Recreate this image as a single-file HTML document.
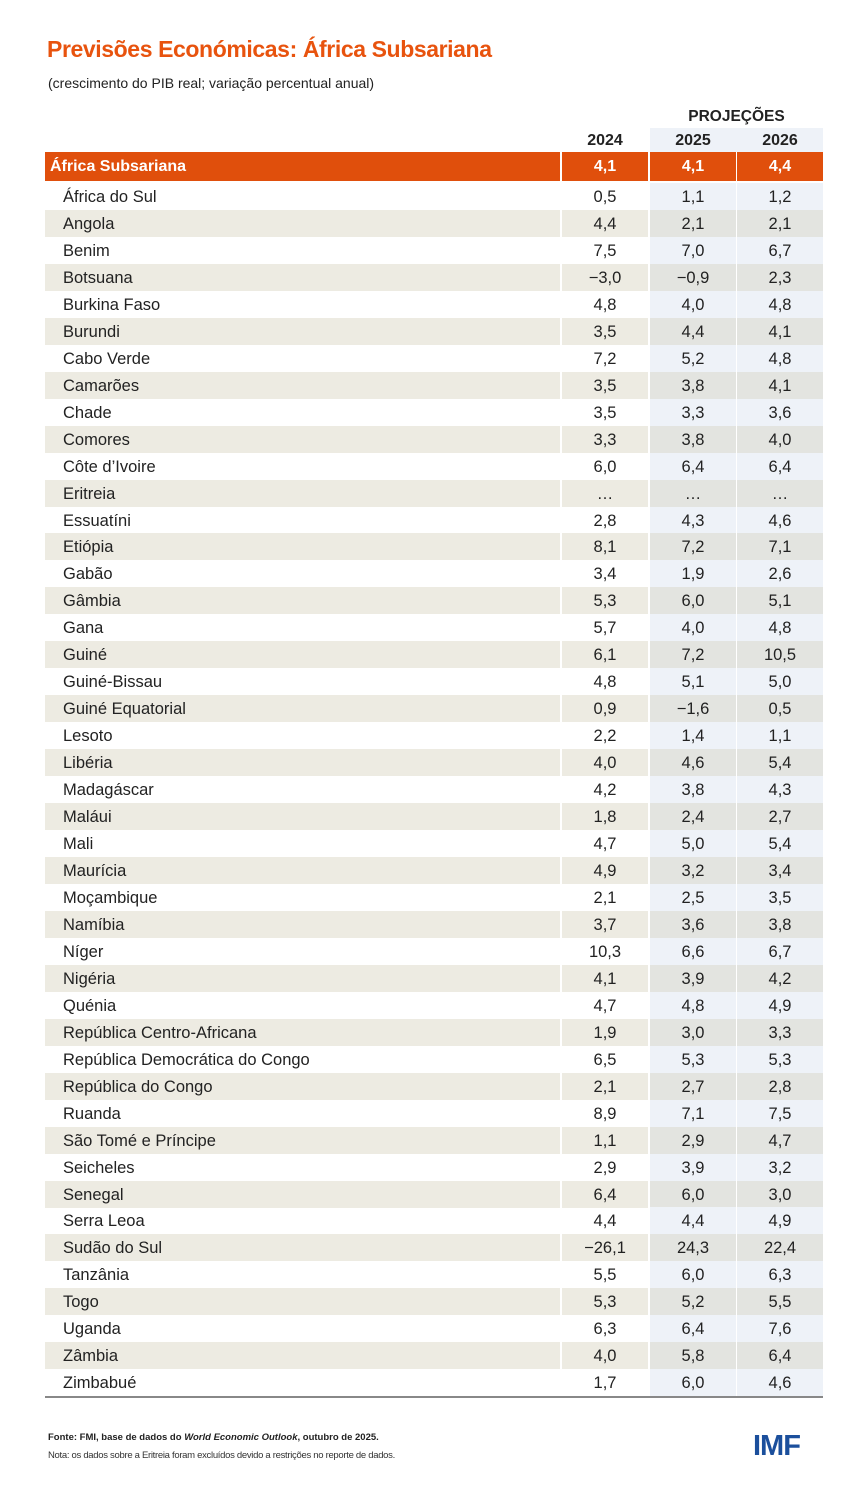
<!DOCTYPE html>
<html><head><meta charset="utf-8"><style>
body{margin:0;width:867px;height:1488px;background:#fff;font-family:"Liberation Sans",sans-serif;position:relative;overflow:hidden}
.t{position:absolute;left:47px;top:36px;font-size:23px;font-weight:bold;color:#e8530e;letter-spacing:-0.4px}
.s{position:absolute;left:48px;top:75px;font-size:14px;color:#222}
.ph{position:absolute;left:650px;width:173px;top:108px;text-align:center;font-weight:bold;font-size:15.5px;color:#222}
.yr{position:absolute;top:132px;width:86px;text-align:center;font-weight:bold;font-size:16px;color:#222}
.bg{position:absolute;left:650px;top:128px;width:173px;height:24px;background:#eef2f8}
.r{position:absolute;left:45px;width:778px;height:27px;font-size:16.5px;color:#222}
.r div{position:absolute;top:0;height:27px;line-height:29px}
.l{left:0;width:515px;padding-left:18px;box-sizing:border-box}
.c{text-align:center;width:86px}
.a{left:517px}.b{left:605px}.d{left:692px}
.w .b,.w .d{background:#eef2f8}
.g .l,.g .a{background:#edebe2}
.g .b,.g .d{background:#e3e4e0}
.h div{background:#e04f0c;color:#fff;font-weight:bold;font-size:16px}
.h .l{padding-left:5px}
.bot{position:absolute;left:45px;top:1396px;width:778px;height:2px;background:#888}
.f1{position:absolute;left:48px;top:1432px;font-size:9.5px;color:#222;font-weight:bold}
.f2{position:absolute;left:48px;top:1450px;font-size:9.5px;color:#333;letter-spacing:-0.3px}
.imf{position:absolute;left:753px;top:1430px;font-size:29px;font-weight:bold;color:#1b4f9c;letter-spacing:-1px}
</style></head><body>
<div class="t">Previsões Económicas: África Subsariana</div>
<div class="s">(crescimento do PIB real; variação percentual anual)</div>
<div class="bg"></div>
<div class="ph">PROJEÇÕES</div>
<div class="yr" style="left:562px">2024</div>
<div class="yr" style="left:650px">2025</div>
<div class="yr" style="left:737px">2026</div>
<div class="r h" style="top:152px;height:29px"><div class="l" style="height:29px;line-height:30px">África Subsariana</div><div class="c a" style="height:29px;line-height:30px">4,1</div><div class="c b" style="height:29px;line-height:30px">4,1</div><div class="c d" style="height:29px;line-height:30px">4,4</div></div>
<div id="rows"></div>
<script>
var d=[["África do Sul","0,5","1,1","1,2"],["Angola","4,4","2,1","2,1"],["Benim","7,5","7,0","6,7"],["Botsuana","−3,0","−0,9","2,3"],["Burkina Faso","4,8","4,0","4,8"],["Burundi","3,5","4,4","4,1"],["Cabo Verde","7,2","5,2","4,8"],["Camarões","3,5","3,8","4,1"],["Chade","3,5","3,3","3,6"],["Comores","3,3","3,8","4,0"],["Côte d’Ivoire","6,0","6,4","6,4"],["Eritreia","…","…","…"],["Essuatíni","2,8","4,3","4,6"],["Etiópia","8,1","7,2","7,1"],["Gabão","3,4","1,9","2,6"],["Gâmbia","5,3","6,0","5,1"],["Gana","5,7","4,0","4,8"],["Guiné","6,1","7,2","10,5"],["Guiné-Bissau","4,8","5,1","5,0"],["Guiné Equatorial","0,9","−1,6","0,5"],["Lesoto","2,2","1,4","1,1"],["Libéria","4,0","4,6","5,4"],["Madagáscar","4,2","3,8","4,3"],["Maláui","1,8","2,4","2,7"],["Mali","4,7","5,0","5,4"],["Maurícia","4,9","3,2","3,4"],["Moçambique","2,1","2,5","3,5"],["Namíbia","3,7","3,6","3,8"],["Níger","10,3","6,6","6,7"],["Nigéria","4,1","3,9","4,2"],["Quénia","4,7","4,8","4,9"],["República Centro-Africana","1,9","3,0","3,3"],["República Democrática do Congo","6,5","5,3","5,3"],["República do Congo","2,1","2,7","2,8"],["Ruanda","8,9","7,1","7,5"],["São Tomé e Príncipe","1,1","2,9","4,7"],["Seicheles","2,9","3,9","3,2"],["Senegal","6,4","6,0","3,0"],["Serra Leoa","4,4","4,4","4,9"],["Sudão do Sul","−26,1","24,3","22,4"],["Tanzânia","5,5","6,0","6,3"],["Togo","5,3","5,2","5,5"],["Uganda","6,3","6,4","7,6"],["Zâmbia","4,0","5,8","6,4"],["Zimbabué","1,7","6,0","4,6"]];
var h="";d.forEach(function(r,i){h+='<div class="r '+(i%2?'g':'w')+'" style="top:'+(183+i*26.96)+'px"><div class="l">'+r[0]+'</div><div class="c a">'+r[1]+'</div><div class="c b">'+r[2]+'</div><div class="c d">'+r[3]+'</div></div>';});
document.getElementById("rows").innerHTML=h;
</script>
<div class="bot"></div>
<div class="f1">Fonte: FMI, base de dados do <i>World Economic Outlook</i>, outubro de 2025.</div>
<div class="f2">Nota: os dados sobre a Eritreia foram excluídos devido a restrições no reporte de dados.</div>
<div class="imf">IMF</div>
</body></html>
